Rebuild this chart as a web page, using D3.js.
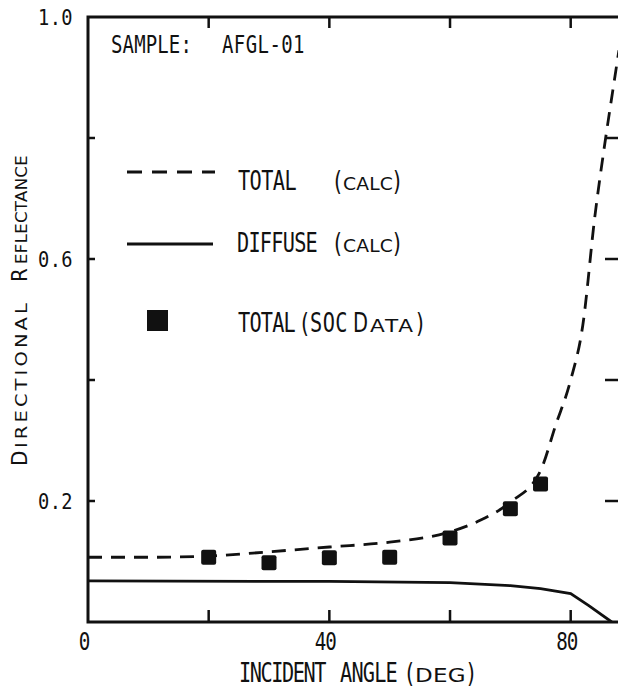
<!DOCTYPE html>
<html>
<head>
<meta charset="utf-8">
<script src="https://cdn.jsdelivr.net/npm/d3@7"></script>
<style>
  html, body { margin: 0; padding: 0; background: #fff; }
  svg { display: block; }
</style>
</head>
<body>
<div id="chart"></div>
<script>
// Values
const calcAngles   = [0, 10, 20, 30, 40, 50, 60, 65, 70, 75, 77.5, 80, 82, 84, 85.5, 87, 88];
const totalCalc    = [0.107, 0.107, 0.109, 0.116, 0.124, 0.132, 0.149, 0.168, 0.198, 0.25, 0.325, 0.40, 0.49, 0.67, 0.78, 0.88, 0.945];
const diffAngles   = [0, 40, 60, 70, 75, 80, 83, 86.8];
const diffuseCalc  = [0.068, 0.067, 0.065, 0.060, 0.055, 0.047, 0.027, 0];
const socAngles    = [20, 30, 40, 50, 60, 70, 75];
const socTotal     = [0.107, 0.098, 0.106, 0.107, 0.139, 0.187, 0.228];
const xTicks       = [0, 20, 40, 60, 80];
const xTickLabels  = ["0", "", "40", "", "80"];
const yTicks       = [0.2, 0.4, 0.6, 0.8, 1.0];
const yTickLabels  = ["0.2", "", "0.6", "", "1.0"];

const width = 618, height = 689;
const ink = "#111";
const mono = "'DejaVu Sans Mono', 'Liberation Mono', monospace";
const round = "'DejaVu Sans', 'Liberation Sans', sans-serif";

const x = d3.scaleLinear().domain([0, 89]).range([88, 625]);
const y = d3.scaleLinear().domain([0, 1]).range([622, 17]);

const svg = d3.create("svg")
    .attr("width", width)
    .attr("height", height)
    .attr("viewBox", [0, 0, width, height]);

// in the page first, so text can be measured
d3.select("#chart").node().appendChild(svg.node());

svg.append("rect").attr("width", width).attr("height", height).attr("fill", "#fff");

svg.append("clipPath").attr("id", "plot")
  .append("rect")
    .attr("x", x(0)).attr("y", y(1))
    .attr("width", x(89) - x(0)).attr("height", y(0) - y(1));

// frame
svg.append("rect")
    .attr("x", x(0)).attr("y", y(1))
    .attr("width", x(89) - x(0)).attr("height", y(0) - y(1))
    .attr("fill", "none").attr("stroke", ink).attr("stroke-width", 3);

// ticks, all pointing into the plot
const ticks = svg.append("g").attr("stroke", ink).attr("stroke-width", 2.5);
xTicks.filter(d => d > 0).forEach(d => {
  ticks.append("line").attr("x1", x(d)).attr("x2", x(d)).attr("y1", y(0)).attr("y2", y(0) - 12);
  ticks.append("line").attr("x1", x(d)).attr("x2", x(d)).attr("y1", y(1)).attr("y2", y(1) + 11);
});
yTicks.filter(d => d < 1).forEach(d => {
  ticks.append("line").attr("x1", x(0)).attr("x2", x(0) + 7).attr("y1", y(d)).attr("y2", y(d));
  ticks.append("line").attr("x1", x(89)).attr("x2", x(89) - 20).attr("y1", y(d)).attr("y2", y(d));
});

// A label built from pieces: [string, start, width, size, font, sx].
// Each piece is its own text, squeezed or widened by sx, then spaced to fill its width.
function label(px, py, parts, sx0, rotate) {
  const g = svg.append("g")
      .attr("fill", ink)
      .attr("transform", `translate(${px},${py})` + (rotate ? ` rotate(${rotate})` : ""));
  parts.forEach(([s, start, w, size, font, sx]) => {
    sx = sx || sx0;
    const t = g.append("text")
        .attr("font-family", font || mono)
        .attr("font-size", size)
        .attr("transform", `scale(${sx},1)`)
        .attr("x", start / sx)
        .text(s);
    const natural = t.node().getComputedTextLength();
    t.attr("letter-spacing", (w / sx - natural) / s.length);
  });
  return g;
}

// tick labels
xTicks.forEach((d, i) => {
  const s = xTickLabels[i];
  if (!s) return;
  const w = s.length * 10.5;
  label(x(d) - 4 - w / 2, y(0) + 28, [[s, 0, w, 24]], 0.8);
});
yTicks.forEach((d, i) => {
  const s = yTickLabels[i];
  if (!s) return;
  label(38, y(d) + 8, [[s, 0, 35, 22]], 0.85);
});

label(111, 53, [["SAMPLE:", 0, 81, 25], ["AFGL-01", 111, 83, 25]], 0.76);

label(239, 682, [
  ["INCIDENT", 0, 86, 27], ["ANGLE", 101, 57, 27],
  ["(", 167, 8, 27, round], ["DEG", 176, 51, 20, round, 1.15], [")", 228, 8, 27, round]
], 0.75);

label(27, 466, [
  ["D", 0, 17, 21, round], ["IRECTIONAL", 18, 148, 15, round, 1.3],
  ["R", 184, 17, 21, round], ["EFLECTANCE", 202, 109, 15, round, 1.1]
], 0.95, -90);

// lines
const plot = svg.append("g").attr("clip-path", "url(#plot)");

const totalLine = d3.line()
    .x(d => x(d[0])).y(d => y(d[1]))
    .curve(d3.curveMonotoneX);
const diffLine = d3.line()
    .x(d => x(d[0])).y(d => y(d[1]));

plot.append("path")
    .datum(calcAngles.map((a, i) => [a, totalCalc[i]]))
    .attr("d", totalLine)
    .attr("fill", "none").attr("stroke", ink).attr("stroke-width", 2.8)
    .attr("stroke-dasharray", "14,9");

plot.append("path")
    .datum(diffAngles.map((a, i) => [a, diffuseCalc[i]]))
    .attr("d", diffLine)
    .attr("fill", "none").attr("stroke", ink).attr("stroke-width", 2.8);

const sq = 15;
plot.append("g")
  .selectAll("rect")
  .data(socAngles.map((a, i) => [a, socTotal[i]]))
  .join("rect")
    .attr("x", d => x(d[0]) - sq / 2)
    .attr("y", d => y(d[1]) - sq / 2)
    .attr("width", sq).attr("height", sq)
    .attr("rx", 2)
    .attr("fill", ink);

// legend
const lg = svg.append("g");
lg.append("line").attr("x1", 127).attr("x2", 215).attr("y1", 172).attr("y2", 172)
    .attr("stroke", ink).attr("stroke-width", 2.8).attr("stroke-dasharray", "15,10");
lg.append("line").attr("x1", 127).attr("x2", 213).attr("y1", 244).attr("y2", 244)
    .attr("stroke", ink).attr("stroke-width", 3);
lg.append("rect").attr("x", 147).attr("y", 310).attr("width", 21).attr("height", 21)
    .attr("fill", ink);

label(238, 190, [
  ["TOTAL", 0, 58, 27],
  ["(", 96, 8, 27, round], ["CALC", 105, 50, 17, round, 1.1], [")", 155, 8, 27, round]
], 0.75);
label(237, 252, [
  ["DIFFUSE", 0, 80, 27],
  ["(", 97, 8, 27, round], ["CALC", 106, 50, 17, round, 1.1], [")", 156, 8, 27, round]
], 0.75);
label(238, 332, [
  ["TOTAL", 0, 57, 27], ["(", 63, 8, 27, round], ["SOC", 72, 38, 27],
  ["D", 115, 16, 26, round], ["ATA", 132, 45, 18, round, 1.2], [")", 178, 8, 27, round]
], 0.75);
</script>
</body>
</html>
